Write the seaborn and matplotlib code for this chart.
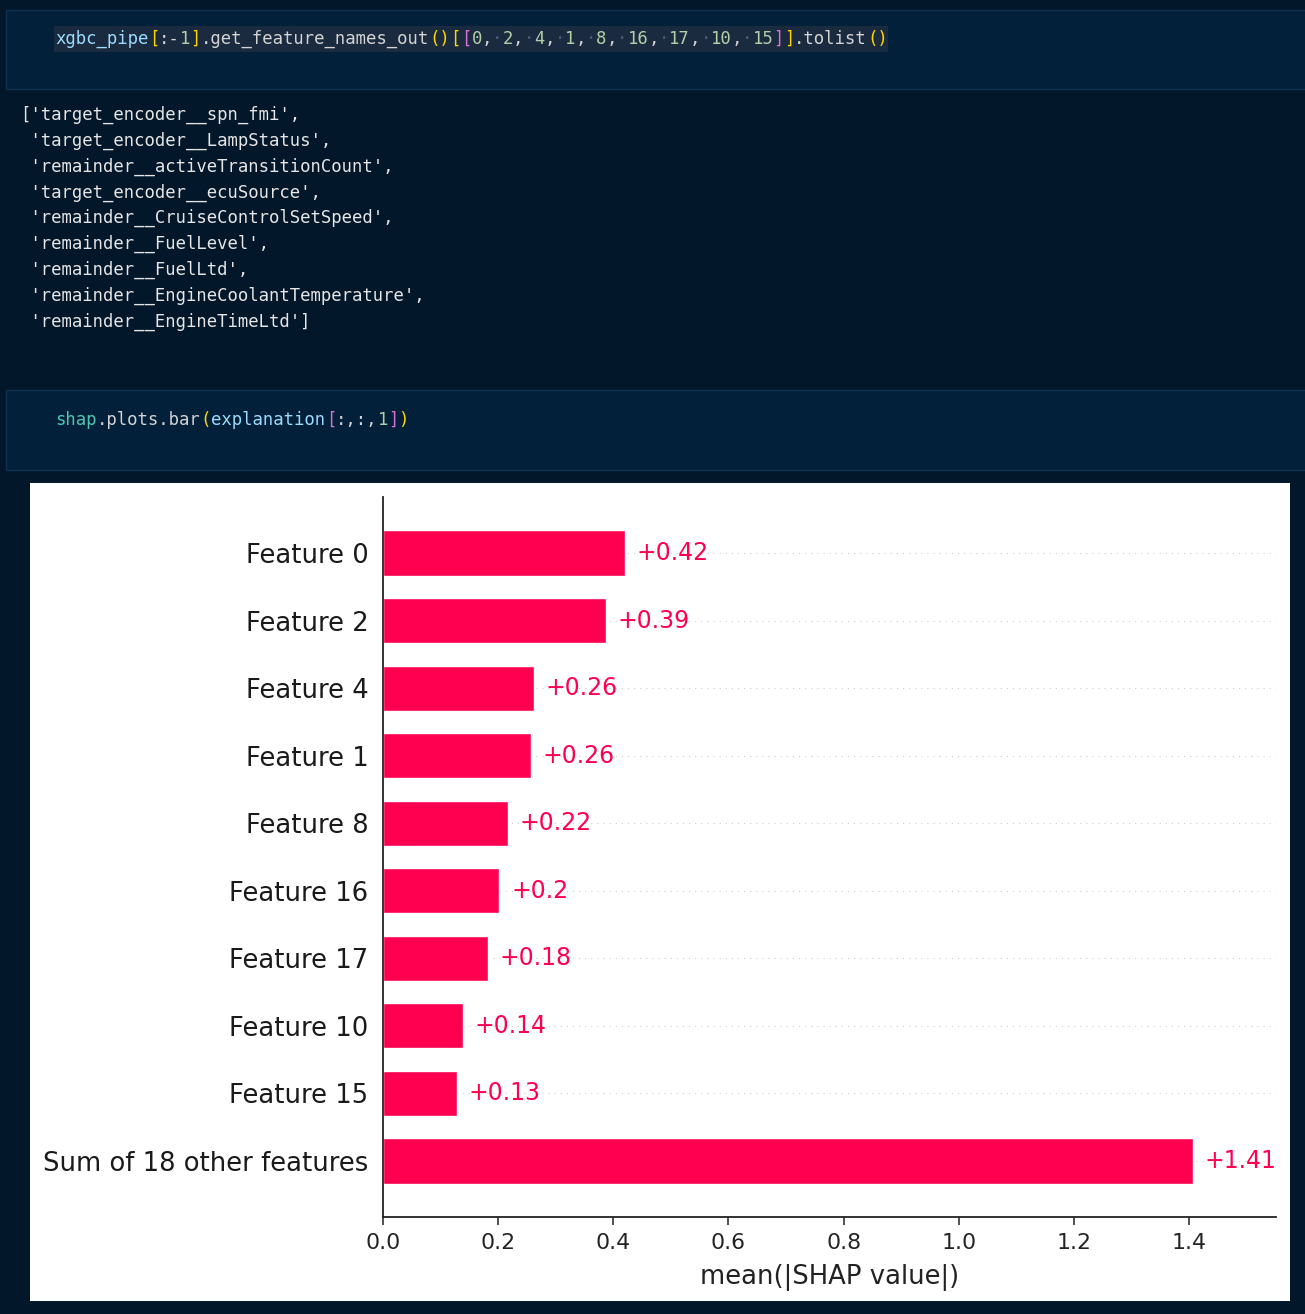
import matplotlib
matplotlib.use("Agg")
import matplotlib.pyplot as plt
from matplotlib.patches import Rectangle
import seaborn as sns
import pandas as pd

# ---------------- data ----------------
features = ["Feature 0", "Feature 2", "Feature 4", "Feature 1", "Feature 8",
            "Feature 16", "Feature 17", "Feature 10", "Feature 15",
            "Sum of 18 other features"]
mean_abs_shap = [0.42, 0.387, 0.262, 0.257, 0.217, 0.202, 0.182, 0.139, 0.128, 1.407]
x_ticks = [0.0, 0.2, 0.4, 0.6, 0.8, 1.0, 1.2, 1.4]

output_lines = [
    "['target_encoder__spn_fmi',",
    " 'target_encoder__LampStatus',",
    " 'remainder__activeTransitionCount',",
    " 'target_encoder__ecuSource',",
    " 'remainder__CruiseControlSetSpeed',",
    " 'remainder__FuelLevel',",
    " 'remainder__FuelLtd',",
    " 'remainder__EngineCoolantTemperature',",
    " 'remainder__EngineTimeLtd']",
]

# ---------------- colours ----------------
BG = "#021729"
CELL_BG = "#03203a"
CELL_EDGE = "#0f3152"
HL_BG = "#1a2a3f"
BLUE = "#9cdcfe"
YEL = "#ffd700"
MAG = "#da70d6"
GRN = "#b5cea8"
WHT = "#d4d4d4"
TEAL = "#4ec9b0"
DOT = "#4a5d75"
OUT = "#e6e6e6"
RED = "#ff0051"

sns.set_style("white")
plt.rcParams["font.family"] = ["DejaVu Sans"]

W, H = 1305, 1314
fig = plt.figure(figsize=(W / 100, H / 100), dpi=100, facecolor=BG)


def fx(x):
    return x / W


def fy(y):
    return 1 - y / H


def rect(x0, y0, x1, y1, fc, ec="none", lw=0):
    r = Rectangle((fx(x0), fy(y1)), fx(x1) - fx(x0), fy(y0) - fy(y1),
                  transform=fig.transFigure, facecolor=fc, edgecolor=ec,
                  linewidth=lw, zorder=-5)
    fig.patches.append(r)


# notebook cells
rect(6, 10, 1310, 89, CELL_BG, CELL_EDGE, 1.0)
rect(54, 26, 888, 52, HL_BG)
rect(6, 390, 1310, 470, CELL_BG, CELL_EDGE, 1.0)
rect(30, 483, 1290, 1301, "white")

FS_CODE = 12.45
CW = FS_CODE * 100 / 72 * 0.602


def code_line(segs, x0, y_base):
    i = 0
    for txt, col in segs:
        fig.text(fx(x0 + i * CW), fy(y_base), txt, color=col,
                 family="DejaVu Sans Mono", fontsize=FS_CODE,
                 ha="left", va="baseline")
        i += len(txt)


segs1 = [("xgbc_pipe", BLUE), ("[", YEL), (":-", WHT), ("1", GRN), ("]", YEL),
         (".get_feature_names_out", WHT), ("()", YEL), ("[", YEL), ("[", MAG)]
nums = ["0", "2", "4", "1", "8", "16", "17", "10", "15"]
for k, n in enumerate(nums):
    segs1.append((n, GRN))
    if k < len(nums) - 1:
        segs1.append((",", WHT))
        segs1.append(("·", DOT))
segs1 += [("]", MAG), ("]", YEL), (".tolist", WHT), ("()", YEL)]
code_line(segs1, 55, 44)

segs2 = [("shap", TEAL), (".plots.bar", WHT), ("(", YEL), ("explanation", BLUE),
         ("[", MAG), (":,:,", WHT), ("1", GRN), ("]", MAG), (")", YEL)]
code_line(segs2, 55, 425)

for k, line in enumerate(output_lines):
    fig.text(fx(20), fy(120 + 25.8 * k), line, color=OUT,
             family="DejaVu Sans Mono", fontsize=FS_CODE,
             ha="left", va="baseline")

# ---------------- chart ----------------
ax = fig.add_axes([fx(383), fy(1217), fx(1276) - fx(383), fy(497) - fy(1217)])
ax.set_zorder(2)
ax.set_facecolor("white")
df = pd.DataFrame({"feature": features, "value": mean_abs_shap})
sns.barplot(data=df, x="value", y="feature", orient="h", color=RED,
            width=0.67, saturation=1, ax=ax, zorder=2)

for i, v in enumerate(mean_abs_shap):
    ax.axhline(i, color="#cccccc", lw=0.8, dashes=(1, 4.5), zorder=-1)
    lab = ("%+0.2f" % v).rstrip("0").rstrip(".")
    ax.annotate(lab, xy=(v, i), xytext=(8.5, 0), textcoords="offset points",
                ha="left", va="center", color=RED, fontsize=17, zorder=3)

ax.set_xlim(0, 1.551)
ax.set_ylim(len(features) - 1 + 0.83, -0.83)
ax.set_xticks(x_ticks)
ax.set_xticklabels(["%.1f" % t for t in x_ticks])
ax.set_xlabel("mean(|SHAP value|)", fontsize=18.6, color="#222222", labelpad=8)
ax.set_ylabel("")
ax.tick_params(axis="y", length=0, pad=10.5, labelsize=18.6, labelcolor="#1a1a1a")
ax.tick_params(axis="x", length=5.5, width=1.2, pad=6, labelsize=15.8,
               labelcolor="#222222", color="#333333", direction="out",
               bottom=True)
for s in ["top", "right"]:
    ax.spines[s].set_visible(False)
for s in ["left", "bottom"]:
    ax.spines[s].set_visible(True)
    ax.spines[s].set_color("#222222")
    ax.spines[s].set_linewidth(1.3)
ax.grid(False)

fig.savefig("out.png", dpi=100, facecolor=BG)
